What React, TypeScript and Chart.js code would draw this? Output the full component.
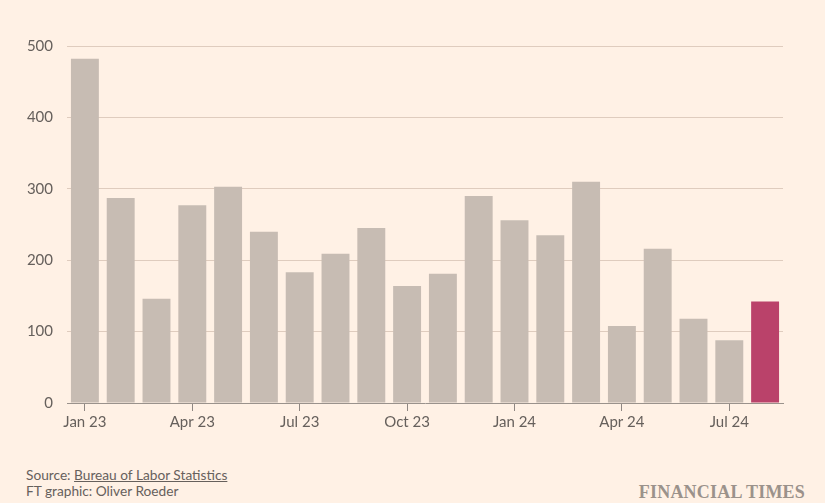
import React, { useEffect, useRef } from "react";
import { Chart, registerables } from "chart.js";

Chart.register(...registerables);

const months = [
  "Jan 23", "Feb 23", "Mar 23", "Apr 23", "May 23", "Jun 23", "Jul 23", "Aug 23", "Sep 23", "Oct 23",
  "Nov 23", "Dec 23", "Jan 24", "Feb 24", "Mar 24", "Apr 24", "May 24", "Jun 24", "Jul 24", "Aug 24",
];
const jobsAdded = [482, 287, 146, 277, 303, 240, 183, 209, 245, 164, 181, 290, 256, 235, 310, 108, 216, 118, 88, 142];
const yTicks = [0, 100, 200, 300, 400, 500];

const BG = "#fff1e5";
const BAR = "#c7bcb3";
const HIGHLIGHT = "#ba426a";
const TEXT = "#66605c";
const FONT = "Lato, 'Open Sans', sans-serif";

export default function App() {
  const ref = useRef<HTMLCanvasElement | null>(null);

  useEffect(() => {
    document.body.style.margin = "0";
    document.body.style.background = BG;
    const ctx = ref.current;
    if (!ctx) return;
    const chart = new Chart(ctx, {
      type: "bar",
      data: {
        labels: months,
        datasets: [
          {
            data: jobsAdded,
            backgroundColor: jobsAdded.map((_, i) => (i === jobsAdded.length - 1 ? HIGHLIGHT : BAR)),
            barPercentage: 0.78,
            categoryPercentage: 1,
          },
        ],
      },
      options: {
        animation: false,
        responsive: false,
        maintainAspectRatio: false,
        layout: { padding: { left: 0, right: 42, top: 46, bottom: 0 } },
        plugins: { legend: { display: false }, tooltip: { enabled: false } },
        scales: {
          x: {
            z: 1,
            grid: {
              offset: false,
              drawOnChartArea: false,
              drawTicks: true,
              tickLength: 8,
              tickColor: (c: any) => (c.index % 3 === 0 ? "#8f8782" : "rgba(0,0,0,0)"),
              tickWidth: 1,
            },
            border: { display: true, color: "#9a928c", width: 1 },
            ticks: {
              autoSkip: false,
              maxRotation: 0,
              padding: 2,
              color: TEXT,
              font: { family: FONT, size: 15 },
              callback: (_v: any, i: number) => (i % 3 === 0 ? months[i] : ""),
            },
            afterFit: (s: any) => {
              s.height = 37;
            },
          },
          y: {
            z: 1,
            min: 0,
            max: 500,
            afterBuildTicks: (s: any) => {
              s.ticks = yTicks.map((v) => ({ value: v }));
            },
            grid: {
              color: (c: any) => (c.tick && c.tick.value === 0 ? "rgba(0,0,0,0)" : "rgba(150,120,100,0.3)"),
              drawTicks: false,
              lineWidth: 1,
            },
            border: { display: false },
            ticks: {
              padding: 14,
              color: TEXT,
              font: { family: FONT, size: 15 },
            },
            afterFit: (s: any) => {
              s.width = 67;
            },
          },
        },
      },
    });
    return () => chart.destroy();
  }, []);

  return (
    <div style={{ position: "relative", width: 825, height: 503, background: BG, overflow: "hidden" }}>
      <canvas ref={ref} width={825} height={440} style={{ position: "absolute", left: 0, top: 0, width: 825, height: 440 }} />
      <div
        style={{
          position: "absolute",
          left: 26,
          top: 467,
          fontFamily: FONT,
          fontSize: 13.7,
          lineHeight: "16px",
          color: TEXT,
        }}
      >
        <div>
          Source: <span style={{ textDecoration: "underline" }}>Bureau of Labor Statistics</span>
        </div>
        <div>FT graphic: Oliver Roeder</div>
      </div>
      <div
        style={{
          position: "absolute",
          right: 20,
          top: 482,
          fontFamily: "'Liberation Serif', 'DejaVu Serif', serif",
          fontSize: 18,
          fontWeight: "bold",
          letterSpacing: 0.2,
          color: "#9b928b",
          lineHeight: "20px",
        }}
      >
        FINANCIAL TIMES
      </div>
    </div>
  );
}
